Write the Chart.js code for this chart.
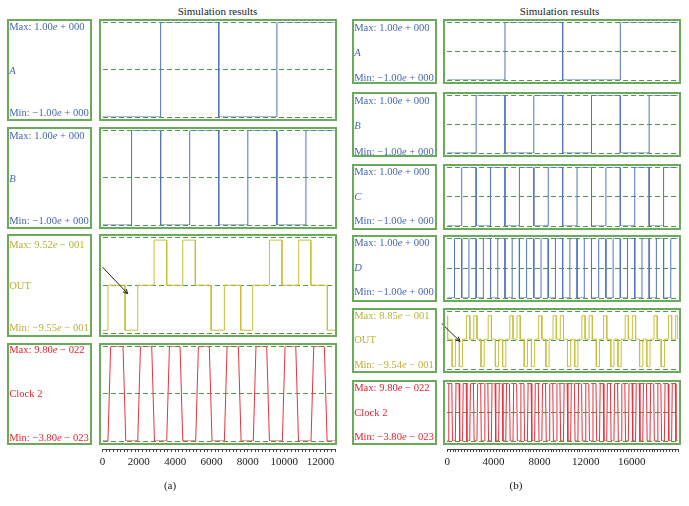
<!DOCTYPE html>
<html>
<head>
<meta charset="utf-8">
<script src="https://cdn.jsdelivr.net/npm/chart.js@4.4.1/dist/chart.umd.min.js"></script>
<style>
  html,body{margin:0;padding:0;background:#fff;}
  body{width:689px;height:506px;position:relative;overflow:hidden;font-family:"Liberation Serif","Times New Roman",serif;}
  .box{position:absolute;box-sizing:border-box;border:2px solid #6aab5a;}
  .txt{position:absolute;font-size:10.6px;line-height:12px;height:12px;white-space:nowrap;}
  .cv{position:absolute;}
  .ttl{position:absolute;font-size:11px;font-weight:normal;line-height:12px;color:#222;text-align:center;width:160px;}
</style>
</head>
<body>
<script>
// ================= DATA =================
// Figure (a): 12800 samples, inputs A, B; output OUT; Clock 2
const aTickValues = [0, 2000, 4000, 6000, 8000, 10000, 12000];
const aA_t = [0, 3200, 6400, 9600];
const aA_v = [-1, 1, -1, 1];
const aB_t = [0, 1600, 3200, 4800, 6400, 8000, 9600, 11200];
const aB_v = [-1, 1, -1, 1, -1, 1, -1, 1];
const aOUT_t = [0, 300, 1240, 1940, 2840, 3535, 4420, 5110, 5980, 6710, 7610, 8270, 9190, 9880, 10800, 11470, 12380];
const aOUT_v = [-0.9, 0, -0.9, 0, 0.9, 0, 0.9, 0, -0.9, 0, -0.9, 0, 0.9, 0, 0.9, 0, -0.9];
const aClk_rise = [300, 1940, 3535, 5130, 6710, 8300, 9900, 11480];
const aClk_fall = [1130, 2710, 4270, 5880, 7480, 9040, 10640, 12215];
const aArrow = {x1: 0, y1: 0.36, x2: 1390, y2: -0.17};

// Figure (b): 20000 samples, inputs A, B, C, D; output OUT; Clock 2
const bTickValues = [0, 4000, 8000, 12000, 16000];
const bA_t = [0, 5000, 10000, 15000];
const bA_v = [-1, 1, -1, 1];
const bB_t = [0, 2500, 5000, 7500, 10000, 12500, 15000, 17500];
const bB_v = [-1, 1, -1, 1, -1, 1, -1, 1];
const bC_t = [0, 1250, 2500, 3750, 5000, 6250, 7500, 8750, 10000, 11250, 12500, 13750, 15000, 16250, 17500, 18750];
const bC_v = [-1, 1, -1, 1, -1, 1, -1, 1, -1, 1, -1, 1, -1, 1, -1, 1];
const bD_t = [0, 625, 1250, 1875, 2500, 3125, 3750, 4375, 5000, 5625, 6250, 6875, 7500, 8125, 8750, 9375,
              10000, 10625, 11250, 11875, 12500, 13125, 13750, 14375, 15000, 15625, 16250, 16875, 17500, 18125, 18750, 19375];
const bD_v = [-1, 1, -1, 1, -1, 1, -1, 1, -1, 1, -1, 1, -1, 1, -1, 1,
              -1, 1, -1, 1, -1, 1, -1, 1, -1, 1, -1, 1, -1, 1, -1, 1];
const bOUT_init = [0.75, 30];   // initial level and the time it ends
const bOUT_start = [420, 1045, 1670, 2295, 2920, 3545, 4170, 4795, 5420, 6045, 6670, 7295, 7920, 8545, 9170, 9795,
                    10420, 11045, 11670, 12295, 12920, 13545, 14170, 14795, 15420, 16045, 16670, 17295, 17920, 18545, 19170, 19795];
const bOUT_end = [700, 1325, 1950, 2575, 3200, 3825, 4450, 5075, 5700, 6325, 6950, 7575, 8200, 8825, 9450, 10075,
                  10700, 11325, 11950, 12575, 13200, 13825, 14450, 15075, 15700, 16325, 16950, 17575, 18200, 18825, 19450, 20000];
const bOUT_level = [-0.88, -0.88, 0.75, 0.75, -0.88, 0.75, -0.88, -0.88, 0.75, 0.75, -0.88, -0.88, 0.75, -0.88, 0.75, 0.75,
                    -0.88, -0.88, 0.75, 0.75, -0.88, 0.75, -0.88, -0.88, 0.75, 0.75, -0.88, -0.88, 0.75, -0.88, 0.75, 0.75];
const bClk_rise = [70, 695, 1320, 1945, 2570, 3195, 3820, 4445, 5070, 5695, 6320, 6945, 7570, 8195, 8820, 9445,
                   10070, 10695, 11320, 11945, 12570, 13195, 13820, 14445, 15070, 15695, 16320, 16945, 17570, 18195, 18820, 19445];
const bClk_fall = [390, 1015, 1640, 2265, 2890, 3515, 4140, 4765, 5390, 6015, 6640, 7265, 7890, 8515, 9140, 9765,
                   10390, 11015, 11640, 12265, 12890, 13515, 14140, 14765, 15390, 16015, 16640, 17265, 17890, 18515, 19140, 19765];
const bArrow = {x1: -485, y1: 0.5, x2: 1100, y2: -0.07};

const clkHigh = 9.80e-22, clkLow = -3.80e-23;

// ================= STYLE / LAYOUT =================
const BLUE = '#5274ba', BLUE_T = '#4567b0';
const YEL = '#c9c03c', YEL_T = '#b9b036';
const RED = '#e6333f', RED_T = '#e5222e';
const GRID = '#4a9c42';
Chart.defaults.font.family = '"Liberation Serif","Times New Roman",serif';

const FIG_A = {labelX: 7, labelW: 85, panelX: 99, panelW: 238, plotL: 102.5, plotR: 335, xMax: 12800, minorStep: 200,
  titleX: 217.5, capX: 170, cap: '(a)', ramp: 150,
  rows: [[19, 121], [127, 229], [234, 337], [343, 445]],
  textY: [[26.7, 70.7, 113.3], [136, 179, 221], [245, 286, 327.7], [350, 394, 438.3]]};
const FIG_B = {labelX: 352, labelW: 85, panelX: 443, panelW: 238, plotL: 447.3, plotR: 678, xMax: 20000, minorStep: 250,
  titleX: 559.5, capX: 516, cap: '(b)', ramp: 60,
  rows: [[19, 84], [92, 157], [164, 230], [235, 302], [308, 373], [380, 445]],
  textY: [[28.3, 53.3, 78.3], [101, 126, 151.7], [171.7, 196.7, 221], [243.3, 268.3, 291.7], [315.7, 340, 365], [388.3, 412.7, 436.7]]};

// ================= BUILDERS =================
function stepPoints(ts, vs, xMax) {
  const p = [];
  for (let i = 0; i < ts.length; i++) {
    const end = i + 1 < ts.length ? ts[i + 1] : xMax;
    p.push({x: ts[i], y: vs[i]}, {x: end, y: vs[i]});
  }
  return p;
}
function clockPoints(rises, falls, ramp, xMax) {
  const p = [{x: 0, y: clkLow}];
  for (let i = 0; i < rises.length; i++) {
    p.push({x: rises[i], y: clkLow}, {x: rises[i] + ramp, y: clkHigh},
           {x: falls[i], y: clkHigh}, {x: Math.min(falls[i] + ramp, xMax), y: clkLow});
  }
  p.push({x: xMax, y: clkLow});
  return p;
}
function pulsePoints(init, starts, ends, levels, xMax) {
  const p = [{x: 0, y: init[0]}, {x: init[1], y: init[0]}, {x: init[1], y: 0}];
  for (let i = 0; i < starts.length; i++) {
    p.push({x: starts[i], y: 0}, {x: starts[i], y: levels[i]}, {x: ends[i], y: levels[i]}, {x: ends[i], y: 0});
  }
  if (ends[ends.length - 1] < xMax) p.push({x: xMax, y: 0});
  return p;
}

const arrowPlugin = {
  id: 'arrow',
  afterDatasetsDraw(chart, args, o) {
    if (!o || o.x1 === undefined) return;
    const X = chart.scales.x, Y = chart.scales.y, ctx = chart.ctx;
    const x1 = X.getPixelForValue(o.x1), y1 = Y.getPixelForValue(o.y1);
    const x2 = X.getPixelForValue(o.x2), y2 = Y.getPixelForValue(o.y2);
    const a = Math.atan2(y2 - y1, x2 - x1), L = 5;
    ctx.save();
    ctx.strokeStyle = '#222'; ctx.lineWidth = 1;
    ctx.beginPath(); ctx.moveTo(x1, y1); ctx.lineTo(x2, y2); ctx.stroke();
    ctx.beginPath();
    ctx.moveTo(x2 - L * Math.cos(a - 0.45), y2 - L * Math.sin(a - 0.45));
    ctx.lineTo(x2, y2);
    ctx.lineTo(x2 - L * Math.cos(a + 0.45), y2 - L * Math.sin(a + 0.45));
    ctx.stroke();
    ctx.restore();
  }
};

function el(tag, cls, css) {
  const d = document.createElement(tag);
  d.className = cls;
  Object.assign(d.style, css);
  document.body.appendChild(d);
  return d;
}
function addText(html, x, yc, color) {
  const d = el('div', 'txt', {left: x + 'px', top: (yc - 6) + 'px', color: color});
  d.innerHTML = html;
}

function addPanel(fig, r, sig) {
  const [top, bottom] = fig.rows[r];
  const h = bottom - top;
  const cx = fig.panelX - 8, cw = fig.panelW + 14;
  const c = el('canvas', 'cv', {left: cx + 'px', top: top + 'px', width: cw + 'px', height: h + 'px'});
  c.width = cw; c.height = h;
  const yMin = sig.yMin, yMax = sig.yMax;
  new Chart(c, {
    type: 'line',
    data: {datasets: [{data: sig.points, borderColor: sig.color, borderWidth: 1, pointRadius: 0, tension: 0, fill: false}]},
    options: {
      responsive: false, animation: false, devicePixelRatio: 1, events: [],
      layout: {padding: {left: fig.plotL - cx, right: cx + cw - fig.plotR, top: 3.5, bottom: 4}},
      plugins: {legend: {display: false}, tooltip: {enabled: false}, arrow: sig.arrow || {}},
      scales: {
        x: {type: 'linear', display: false, min: 0, max: fig.xMax},
        y: {type: 'linear', display: true, min: yMin, max: yMax,
            afterBuildTicks: s => { s.ticks = [{value: yMin}, {value: (yMin + yMax) / 2}, {value: yMax}]; },
            ticks: {display: false, callback: () => ''},
            grid: {color: GRID, lineWidth: 1, drawTicks: false, tickLength: 0},
            border: {display: false, dash: [5, 3]}}
      }
    },
    plugins: [arrowPlugin]
  });
  el('div', 'box', {left: fig.labelX + 'px', top: top + 'px', width: fig.labelW + 'px', height: h + 'px'});
  el('div', 'box', {left: fig.panelX + 'px', top: top + 'px', width: fig.panelW + 'px', height: h + 'px'});
  addText(sig.max, fig.labelX + 2.2, fig.textY[r][0], sig.tc);
  addText(sig.name, fig.labelX + 2.2, fig.textY[r][1], sig.tc);
  addText(sig.min, fig.labelX + 2.2, fig.textY[r][2], sig.tc);
}

function addAxis(fig, tickValues) {
  const cx = fig.panelX - 8, cw = fig.panelW + 14, top = 440, h = 42;
  const c = el('canvas', 'cv', {left: cx + 'px', top: top + 'px', width: cw + 'px', height: h + 'px'});
  c.width = cw; c.height = h;
  new Chart(c, {
    type: 'line',
    data: {datasets: []},
    options: {
      responsive: false, animation: false, devicePixelRatio: 1, events: [],
      layout: {padding: {left: fig.plotL - cx, right: cx + cw - fig.plotR, top: 3, bottom: 2}},
      plugins: {legend: {display: false}, tooltip: {enabled: false}},
      scales: {
        x: {type: 'linear', position: 'bottom', min: 0, max: fig.xMax,
            afterBuildTicks: s => { const t = []; for (let v = 0; v <= fig.xMax; v += fig.minorStep) t.push({value: v}); s.ticks = t; },
            ticks: {autoSkip: false, maxRotation: 0, minRotation: 0, padding: 4, color: '#1a1a1a',
                    font: {size: 11}, callback: v => tickValues.includes(v) ? String(v) : ''},
            grid: {display: true, drawOnChartArea: false, drawTicks: true, tickLength: 3, tickColor: '#444', tickWidth: 1},
            border: {display: true, color: '#444', width: 1},
            afterFit: s => { s.height = 31; }},
        y: {display: false}
      }
    }
  });
}

function addFigure(fig, sigs, tickValues) {
  const t = el('div', 'ttl', {left: (fig.titleX - 80) + 'px', top: '5px'});
  t.textContent = 'Simulation results';
  sigs.forEach((s, i) => addPanel(fig, i, s));
  addAxis(fig, tickValues);
  const cap = el('div', 'ttl', {left: (fig.capX - 80) + 'px', top: '479px'});
  cap.textContent = fig.cap;
}

const one = 'Max: 1.00<i>e</i> + 000', mone = 'Min: −1.00<i>e</i> + 000';
const clkMax = 'Max: 9.80<i>e</i> − 022', clkMin = 'Min: −3.80<i>e</i> − 023';

addFigure(FIG_A, [
  {name: '<i>A</i>', max: one, min: mone, color: BLUE, tc: BLUE_T, yMin: -1, yMax: 1, points: stepPoints(aA_t, aA_v, FIG_A.xMax)},
  {name: '<i>B</i>', max: one, min: mone, color: BLUE, tc: BLUE_T, yMin: -1, yMax: 1, points: stepPoints(aB_t, aB_v, FIG_A.xMax)},
  {name: 'OUT', max: 'Max: 9.52<i>e</i> − 001', min: 'Min: −9.55<i>e</i> − 001', color: YEL, tc: YEL_T,
   yMin: -0.955, yMax: 0.952, points: stepPoints(aOUT_t, aOUT_v, FIG_A.xMax), arrow: aArrow},
  {name: 'Clock 2', max: clkMax, min: clkMin, color: RED, tc: RED_T, yMin: clkLow, yMax: clkHigh,
   points: clockPoints(aClk_rise, aClk_fall, FIG_A.ramp, FIG_A.xMax)}
], aTickValues);

addFigure(FIG_B, [
  {name: '<i>A</i>', max: one, min: mone, color: BLUE, tc: BLUE_T, yMin: -1, yMax: 1, points: stepPoints(bA_t, bA_v, FIG_B.xMax)},
  {name: '<i>B</i>', max: one, min: mone, color: BLUE, tc: BLUE_T, yMin: -1, yMax: 1, points: stepPoints(bB_t, bB_v, FIG_B.xMax)},
  {name: '<i>C</i>', max: one, min: mone, color: BLUE, tc: BLUE_T, yMin: -1, yMax: 1, points: stepPoints(bC_t, bC_v, FIG_B.xMax)},
  {name: '<i>D</i>', max: one, min: mone, color: BLUE, tc: BLUE_T, yMin: -1, yMax: 1, points: stepPoints(bD_t, bD_v, FIG_B.xMax)},
  {name: 'OUT', max: 'Max: 8.85<i>e</i> − 001', min: 'Min: −9.54<i>e</i> − 001', color: YEL, tc: YEL_T,
   yMin: -0.954, yMax: 0.885, points: pulsePoints(bOUT_init, bOUT_start, bOUT_end, bOUT_level, FIG_B.xMax), arrow: bArrow},
  {name: 'Clock 2', max: clkMax, min: clkMin, color: RED, tc: RED_T, yMin: clkLow, yMax: clkHigh,
   points: clockPoints(bClk_rise, bClk_fall, FIG_B.ramp, FIG_B.xMax)}
], bTickValues);
</script>
</body>
</html>
